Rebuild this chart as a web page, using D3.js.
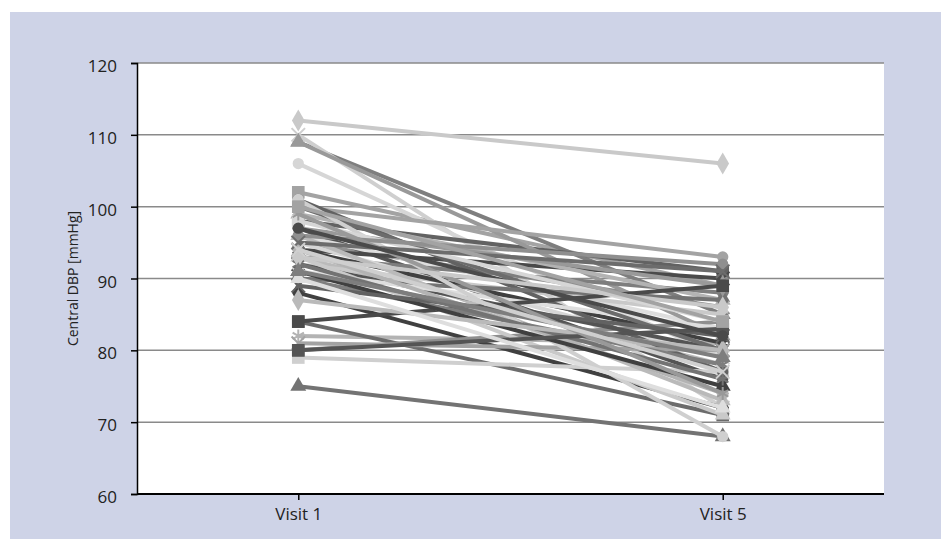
<!DOCTYPE html>
<html>
<head>
<meta charset="utf-8">
<script src="https://cdn.jsdelivr.net/npm/d3@7"></script>
<style>
  body { margin: 0; background: #fff; }
  text { font-family: "Open Sans", "Noto Sans", sans-serif; fill: #222; }
</style>
</head>
<body>
<div id="chart"></div>
<script>
// categories on the x axis
const categories = ['Visit 1', 'Visit 5'];

// central DBP per patient, one entry per patient (same order in both arrays)
const visit1 = [112, 102, 109, 110, 82, 106, 88, 98, 75, 95, 93, 97, 96, 84, 109, 94, 92, 100, 93, 79,
                99, 95, 94, 101, 90, 80, 96, 92, 91, 100, 97, 84, 93, 81, 90, 101, 94, 98, 91, 89,
                92, 96, 87, 80, 90, 95, 99, 97, 93, 100, 91, 94];
const visit5 = [106, 89, 85, 72, 81, 79, 72, 91, 68, 86, 78, 76, 83, 71, 82, 90, 85, 93, 88, 77,
                87, 79, 81, 77, 87, 84, 73, 80, 83, 80, 89, 89, 71, 80, 78, 68, 74, 84, 75, 82,
                76, 92, 80, 83, 72, 91, 74, 82, 86, 84, 79, 77];

const yTicks = [60, 70, 80, 90, 100, 110, 120];
const yTitle = 'Central DBP [mmHg]';

const W = 941, H = 539;
const plot = {left: 137, right: 884, top: 63, bottom: 494};

const svg = d3.select('#chart').append('svg')
    .attr('width', W)
    .attr('height', H);

// lavender frame
svg.append('rect')
    .attr('x', 10).attr('y', 12)
    .attr('width', W - 10).attr('height', H - 12)
    .attr('fill', '#ced3e7');

// white plot area
svg.append('rect')
    .attr('x', plot.left).attr('y', plot.top)
    .attr('width', plot.right - plot.left).attr('height', plot.bottom - plot.top)
    .attr('fill', '#fff');

const x = d3.scalePoint()
    .domain(categories)
    .range([plot.left, plot.right])
    .padding(0.38);

const y = d3.scaleLinear()
    .domain([60, 120])
    .range([plot.bottom, plot.top]);

// gridlines
svg.append('g')
    .selectAll('line')
    .data(yTicks.filter(d => d > 60))
    .join('line')
    .attr('x1', plot.left).attr('x2', plot.right)
    .attr('y1', d => y(d)).attr('y2', d => y(d))
    .attr('stroke', '#8a8a8a')
    .attr('stroke-width', 1.5);

// series
const grays = ['#c9c9c9', '#a3a3a3', '#7e7e7e', '#cfcfcf', '#b3b3b3', '#d6d6d6', '#404040',
               '#626262', '#737373', '#8f8f8f', '#bababa', '#545454', '#dedede', '#6c6c6c',
               '#999999', '#4a4a4a'];
const shapes = [d3.symbolDiamond, d3.symbolSquare, d3.symbolTriangle, d3.symbolTimes, d3.symbolAsterisk, d3.symbolCircle];
const sizes = [140, 160, 110, 120, 120, 100];

const series = visit1.map((v, i) => ({i, values: [visit1[i], visit5[i]]}));

const line = d3.line()
    .x((d, k) => x(categories[k]))
    .y(d => y(d));

const g = svg.append('g');
series.forEach(s => {
  const c = grays[s.i % grays.length];
  const shape = shapes[s.i % shapes.length];
  const stroked = shape === d3.symbolTimes || shape === d3.symbolAsterisk;
  g.append('path')
      .attr('d', line(s.values))
      .attr('fill', 'none')
      .attr('stroke', c)
      .attr('stroke-width', 4);
  s.values.forEach((v, k) => {
    g.append('path')
        .attr('transform', `translate(${x(categories[k])},${y(v)})`)
        .attr('d', d3.symbol().type(shape).size(sizes[s.i % shapes.length])())
        .attr('fill', stroked ? 'none' : c)
        .attr('stroke', stroked ? c : 'none')
        .attr('stroke-width', stroked ? 2 : 0);
  });
});

// y axis
const yAxis = svg.append('g')
    .attr('transform', `translate(${plot.left},0)`)
    .call(d3.axisLeft(y).tickValues(yTicks).tickSize(6).tickPadding(14).tickFormat(d3.format('d')));
yAxis.select('.domain').attr('stroke', '#000').attr('stroke-width', 1.5);
yAxis.selectAll('.tick line').attr('stroke', '#000').attr('stroke-width', 1.5);
yAxis.selectAll('.tick text')
    .attr('font-size', 17)
    .attr('dy', '0.5em')
    .style('font-family', '"Open Sans", "Noto Sans", sans-serif')
    .attr('fill', '#222');

// x axis
const xAxis = svg.append('g')
    .attr('transform', `translate(0,${plot.bottom})`)
    .call(d3.axisBottom(x).tickSize(6).tickPadding(8).tickSizeOuter(0));
xAxis.select('.domain').attr('stroke', '#000').attr('stroke-width', 2)
    .attr('d', `M${plot.left},0H${plot.right}`);
xAxis.selectAll('.tick line').attr('stroke', '#000').attr('stroke-width', 1.5);
xAxis.selectAll('.tick text')
    .attr('font-size', 17)
    .style('font-family', '"Open Sans", "Noto Sans", sans-serif')
    .attr('fill', '#222');

// y title
svg.append('text')
    .attr('transform', `translate(78,${(plot.top + plot.bottom) / 2}) rotate(-90)`)
    .attr('text-anchor', 'middle')
    .attr('font-size', 14)
    .text(yTitle);
</script>
</body>
</html>
